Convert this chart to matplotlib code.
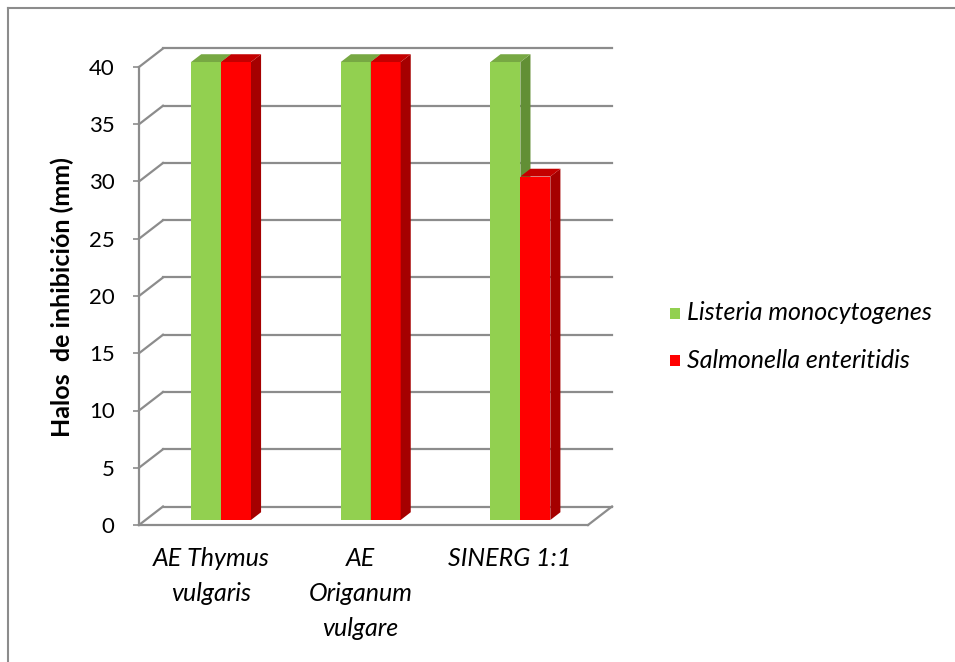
import matplotlib
matplotlib.use("Agg")
import matplotlib.pyplot as plt
from matplotlib.patches import Polygon, Rectangle
from matplotlib.lines import Line2D

plt.rcParams['font.family'] = ['Lato', 'DejaVu Sans']

# Data
categories = ["AE Thymus\nvulgaris", "AE\nOriganum\nvulgare", "SINERG 1:1"]
series_names = ["Listeria monocytogenes", "Salmonella enteritidis"]
listeria = [40, 40, 40]
salmonella = [40, 40, 30]
yticks = [0, 5, 10, 15, 20, 25, 30, 35, 40]

# Colours: front, side, top faces
green = ("#92D050", "#628F35", "#77A843")
red = ("#FF0000", "#A50000", "#C40000")
grid_col = "#8C8C8C"

W, H = 955, 662
fig = plt.figure(figsize=(W / 100, H / 100), dpi=100)
fig.patch.set_facecolor("white")

# axes spans the front plane of the pseudo-3D plot
x0p, x1p, y0p, y1p = 139, 588, 525, 67
ax = fig.add_axes([x0p / W, 1 - y0p / H, (x1p - x0p) / W, (y0p - y1p) / H])
ax.set_xlim(-0.5, 2.5)
ax.set_ylim(0, 40)
for s in ax.spines.values():
    s.set_visible(False)
ax.patch.set_visible(False)

# depth of the wall in data units
DX = 24 / ((x1p - x0p) / 3)
DY = 18.5 / ((y0p - y1p) / 40)

lw = 1.6
# back wall gridlines + diagonals on the side wall
for v in yticks:
    ax.add_line(Line2D([-0.5 + DX, 2.5 + DX], [v + DY, v + DY], color=grid_col, lw=lw, clip_on=False, zorder=1))
    ax.add_line(Line2D([-0.5, -0.5 + DX], [v, v + DY], color=grid_col, lw=lw, clip_on=False, zorder=1))
# floor front edge and right diagonal
ax.add_line(Line2D([-0.5, 2.5], [0, 0], color=grid_col, lw=lw, clip_on=False, zorder=1))
ax.add_line(Line2D([2.5, 2.5 + DX], [0, DY], color=grid_col, lw=lw, clip_on=False, zorder=1))
# vertical axis line
ax.add_line(Line2D([-0.5, -0.5], [0, 40], color=grid_col, lw=lw, clip_on=False, zorder=1))


def bar3d(xl, width, h, cols, z):
    f0, f1 = 0.27, 0.69
    ox, oy = f0 * DX, f0 * DY
    dx, dy = (f1 - f0) * DX, (f1 - f0) * DY
    xa, xb = xl + ox, xl + width + ox
    ya, yb = oy, h + oy
    front = Polygon([(xa, ya), (xb, ya), (xb, yb), (xa, yb)], closed=True,
                    facecolor=cols[0], edgecolor="none", clip_on=False, zorder=z)
    side = Polygon([(xb, ya), (xb + dx, ya + dy), (xb + dx, yb + dy), (xb, yb)], closed=True,
                   facecolor=cols[1], edgecolor="none", clip_on=False, zorder=z)
    top = Polygon([(xa, yb), (xb, yb), (xb + dx, yb + dy), (xa + dx, yb + dy)], closed=True,
                  facecolor=cols[2], edgecolor="none", clip_on=False, zorder=z)
    for p in (front, side, top):
        ax.add_patch(p)


bw = 0.2
for i in range(len(categories)):
    bar3d(i - 0.195, bw, listeria[i], green, 3 + i * 2)
    bar3d(i + 0.005, bw, salmonella[i], red, 4 + i * 2)

# ticks
ax.set_yticks(yticks)
ax.set_yticklabels([str(v) for v in yticks])
ax.tick_params(axis="y", direction="out", length=4.5, width=1.2, color=grid_col,
               pad=13, labelsize=16, labelcolor="black")
ax.set_xticks([i - 0.02 for i in range(len(categories))])
ax.set_xticklabels(categories, fontsize=18, fontstyle="italic", linespacing=1.62)
ax.tick_params(axis="x", length=0, pad=16)

# y-axis title
fig.text(62 / W, 1 - 297 / H, "Halos  de inhibición (mm)", rotation=90, ha="center", va="center",
         fontsize=18, fontweight="bold")

# legend
leg_y = [313, 360]
for name, col, yy in zip(series_names, (green[0], red[0]), leg_y):
    fig.add_artist(Rectangle((670 / W, 1 - (yy + 5.5) / H), 10 / W, 11 / H,
                             transform=fig.transFigure, facecolor=col, edgecolor="none"))
    fig.text(687 / W, 1 - yy / H, name, ha="left", va="center", fontsize=18, fontstyle="italic")

# chart frame
fig.add_artist(Line2D([8 / W, 1.0], [1 - 8 / H, 1 - 8 / H], transform=fig.transFigure, color="#8C8C8C", lw=1.5))
fig.add_artist(Line2D([8 / W, 8 / W], [0.0, 1 - 8 / H], transform=fig.transFigure, color="#8C8C8C", lw=1.5))

fig.savefig("out.png", dpi=100)
